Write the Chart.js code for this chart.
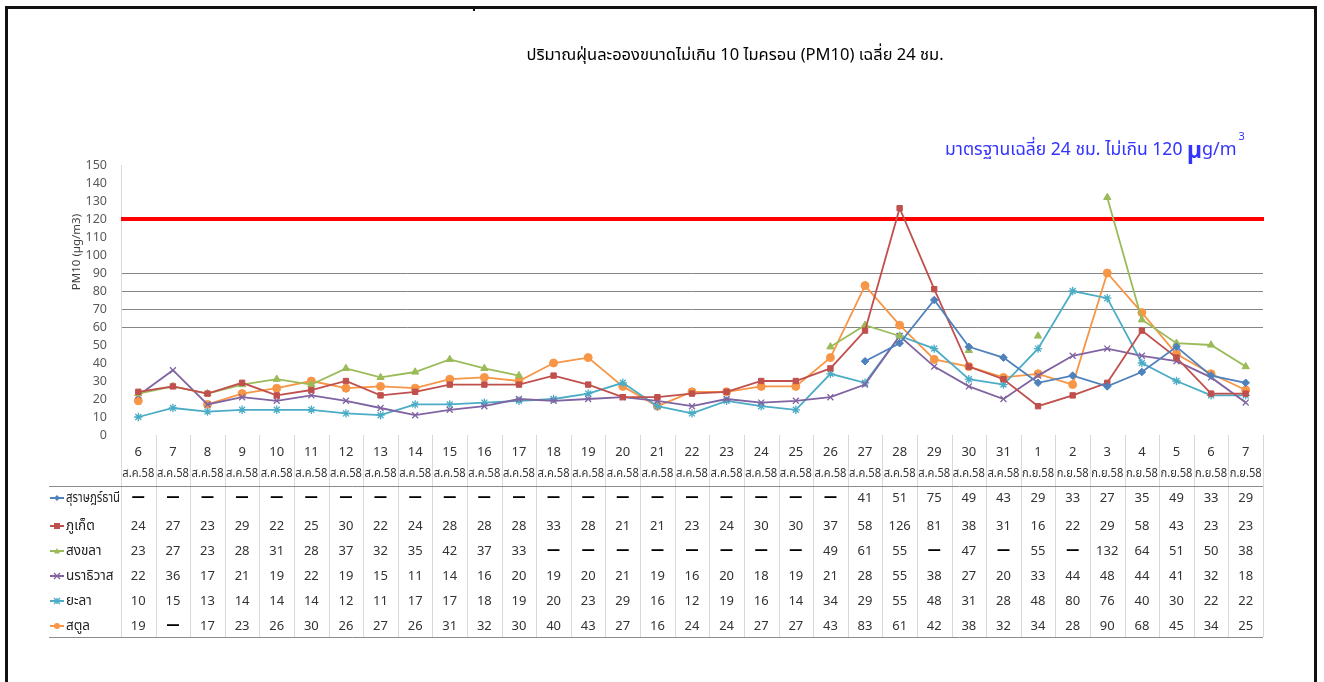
<!DOCTYPE html>
<html><head><meta charset="utf-8">
<script src="https://cdn.jsdelivr.net/npm/chart.js@4.4.0/dist/chart.umd.min.js"></script>
<style>html,body{margin:0;padding:0;background:#fff;}#wrap{width:1324px;height:682px;position:relative;}</style>
</head><body><div id="wrap"><canvas id="c" width="1324" height="682"></canvas></div>
<script>
// ---------- DATA ----------
const dayLabels = ['6','7','8','9','10','11','12','13','14','15','16','17','18','19','20','21','22','23','24','25','26','27','28','29','30','31','1','2','3','4','5','6','7'];
const monthLabels = ['ส.ค.58','ส.ค.58','ส.ค.58','ส.ค.58','ส.ค.58','ส.ค.58','ส.ค.58','ส.ค.58','ส.ค.58','ส.ค.58','ส.ค.58','ส.ค.58','ส.ค.58','ส.ค.58','ส.ค.58','ส.ค.58','ส.ค.58','ส.ค.58','ส.ค.58','ส.ค.58','ส.ค.58','ส.ค.58','ส.ค.58','ส.ค.58','ส.ค.58','ส.ค.58','ก.ย.58','ก.ย.58','ก.ย.58','ก.ย.58','ก.ย.58','ก.ย.58','ก.ย.58'];
const seriesNames = ['สุราษฎร์ธานี','ภูเก็ต','สงขลา','นราธิวาส','ยะลา','สตูล'];
const suratThani = [null,null,null,null,null,null,null,null,null,null,null,null,null,null,null,null,null,null,null,null,null,41,51,75,49,43,29,33,27,35,49,33,29];
const phuket     = [24,27,23,29,22,25,30,22,24,28,28,28,33,28,21,21,23,24,30,30,37,58,126,81,38,31,16,22,29,58,43,23,23];
const songkhla   = [23,27,23,28,31,28,37,32,35,42,37,33,null,null,null,null,null,null,null,null,49,61,55,null,47,null,55,null,132,64,51,50,38];
const narathiwat = [22,36,17,21,19,22,19,15,11,14,16,20,19,20,21,19,16,20,18,19,21,28,55,38,27,20,33,44,48,44,41,32,18];
const yala       = [10,15,13,14,14,14,12,11,17,17,18,19,20,23,29,16,12,19,16,14,34,29,55,48,31,28,48,80,76,40,30,22,22];
const satun      = [19,null,17,23,26,30,26,27,26,31,32,30,40,43,27,16,24,24,27,27,43,83,61,42,38,32,34,28,90,68,45,34,25];
const standardValue = 120;
const yMin = 0, yMax = 150, yStep = 10;
const visibleGridValues = [60,70,80,90];
const titleText = 'ปริมาณฝุ่นละอองขนาดไม่เกิน 10 ไมครอน (PM10) เฉลี่ย 24 ชม.';
const yAxisTitle = 'PM10 (µg/m3)';
const noteMain = 'มาตรฐานเฉลี่ย 24 ชม. ไม่เกิน 120 ';
const noteMu = 'µ', noteUnit = 'g/m', noteSup = '3';

// ---------- STYLE ----------
const FONT = '"Noto Sans","Noto Sans Thai","DejaVu Sans",sans-serif';
const colors = ['#4F81BD','#C0504D','#9BBB59','#8064A2','#4BACC6','#F79646'];
const styles = ['rectRot','rect','triangle','crossRot','star','circle'];
const radii = [3.8,3.8,4.2,4.2,4.2,4];
const allSeries = [suratThani, phuket, songkhla, narathiwat, yala, satun];

const PLOT_BOTTOM = 435, TABLE_BOTTOM = 637, HEADER_LINE = 486;
const ROW_Y = [498,526,551,576,601,626];

function drawMarker(ctx, style, x, y, r, color){
  ctx.save();
  ctx.fillStyle = color; ctx.strokeStyle = color; ctx.lineWidth = 1.3;
  ctx.beginPath();
  if (style==='rectRot'){ ctx.moveTo(x,y-r);ctx.lineTo(x+r,y);ctx.lineTo(x,y+r);ctx.lineTo(x-r,y);ctx.closePath();ctx.fill(); }
  else if (style==='rect'){ ctx.fillRect(x-r,y-r,2*r,2*r); }
  else if (style==='triangle'){ ctx.moveTo(x,y-r);ctx.lineTo(x+r,y+r*0.8);ctx.lineTo(x-r,y+r*0.8);ctx.closePath();ctx.fill(); }
  else if (style==='crossRot'){ ctx.moveTo(x-r,y-r);ctx.lineTo(x+r,y+r);ctx.moveTo(x+r,y-r);ctx.lineTo(x-r,y+r);ctx.stroke(); }
  else if (style==='star'){ ctx.moveTo(x-r,y-r);ctx.lineTo(x+r,y+r);ctx.moveTo(x+r,y-r);ctx.lineTo(x-r,y+r);ctx.moveTo(x,y-r);ctx.lineTo(x,y+r);ctx.stroke(); }
  else { ctx.arc(x,y,r,0,Math.PI*2);ctx.fill(); }
  ctx.restore();
}

const decorPlugin = {
  id:'decor',
  beforeDatasetsDraw(chart){
    const ctx = chart.ctx, ys = chart.scales.y, a = chart.chartArea;
    const y = ys.getPixelForValue(standardValue);
    ctx.save();
    ctx.strokeStyle = '#FF0000'; ctx.lineWidth = 4;
    ctx.beginPath(); ctx.moveTo(a.left, y); ctx.lineTo(a.right+1, y); ctx.stroke();
    ctx.restore();
  },
  afterDraw(chart){
    const ctx = chart.ctx, xs = chart.scales.x, a = chart.chartArea;
    ctx.save();
    // frame
    ctx.fillStyle = '#111';
    ctx.fillRect(5,6,1312,3);
    ctx.fillRect(5,6,3,676);
    ctx.fillRect(1314,6,3,676);
    ctx.fillRect(473,9,2,2);
    // title
    ctx.fillStyle = '#000'; ctx.textBaseline='middle'; ctx.textAlign='center';
    ctx.font = '16.5px '+FONT;
    ctx.fillText(titleText, 735, 55, 418);
    // note
    ctx.fillStyle = '#3333FF'; ctx.textAlign='left';
    ctx.font = '18px '+FONT;
    let x = 945;
    const mainW = Math.min(ctx.measureText(noteMain).width, 242);
    ctx.fillText(noteMain, x, 150, 242); x += mainW;
    ctx.font = 'bold 23px '+FONT;
    ctx.fillText(noteMu, x, 151); x += ctx.measureText(noteMu).width;
    ctx.font = '18px '+FONT;
    ctx.fillText(noteUnit, x, 150); x += ctx.measureText(noteUnit).width;
    ctx.font = '11px '+FONT;
    ctx.fillText(noteSup, x+2, 137);
    // y-axis title
    ctx.save();
    ctx.translate(77, 252); ctx.rotate(-Math.PI/2);
    ctx.fillStyle = '#404040'; ctx.textAlign='center'; ctx.font = '11.5px '+FONT;
    ctx.fillText(yAxisTitle, 0, 0);
    ctx.restore();
    // table grid
    const n = dayLabels.length;
    const step = xs.getPixelForValue(1) - xs.getPixelForValue(0);
    ctx.strokeStyle = '#d9d9d9'; ctx.lineWidth = 1;
    for (let i=0;i<=n;i++){
      const xx = Math.round(xs.getPixelForValue(Math.min(i,n-1)) + (i<n ? -step/2 : step/2)) + 0.5;
      ctx.beginPath(); ctx.moveTo(xx, PLOT_BOTTOM); ctx.lineTo(xx, TABLE_BOTTOM); ctx.stroke();
    }
    ctx.strokeStyle = '#8c8c8c';
    ctx.beginPath(); ctx.moveTo(49, HEADER_LINE+0.5); ctx.lineTo(a.right, HEADER_LINE+0.5); ctx.stroke();
    ctx.beginPath(); ctx.moveTo(49, TABLE_BOTTOM+0.5); ctx.lineTo(a.right, TABLE_BOTTOM+0.5); ctx.stroke();
    // headers
    ctx.fillStyle = '#333'; ctx.textAlign = 'center'; ctx.textBaseline='middle';
    for (let i=0;i<n;i++){
      const cx = xs.getPixelForValue(i);
      ctx.font = '13px '+FONT;
      ctx.fillText(dayLabels[i], cx, 452, 31);
      ctx.fillText(monthLabels[i], cx, 473, 32);
    }
    // rows
    for (let s=0;s<allSeries.length;s++){
      const y = ROW_Y[s];
      ctx.strokeStyle = colors[s]; ctx.lineWidth = 2;
      ctx.beginPath(); ctx.moveTo(50,y); ctx.lineTo(64,y); ctx.stroke();
      drawMarker(ctx, styles[s], 57, y, 3, colors[s]);
      ctx.fillStyle = '#222'; ctx.textAlign='left'; ctx.font = '13.5px '+FONT;
      ctx.fillText(seriesNames[s], 66, y, 54);
      ctx.textAlign='center';
      for (let i=0;i<n;i++){
        const v = allSeries[s][i];
        const cx = xs.getPixelForValue(i);
        if (v===null){
          ctx.fillStyle = '#000'; ctx.font = 'bold 16px '+FONT;
          ctx.fillText('—', cx, y-2, 13);
        } else {
          ctx.fillStyle = '#333'; ctx.font = '13px '+FONT;
          ctx.fillText(String(v), cx, y, 30);
        }
      }
    }
    ctx.restore();
  }
};

const datasets = allSeries.map((d,i)=>({
  label: seriesNames[i], data: d,
  borderColor: colors[i], backgroundColor: colors[i],
  pointStyle: styles[i], pointRadius: radii[i],
  pointBackgroundColor: colors[i], pointBorderColor: colors[i],
  pointBorderWidth: (styles[i]==='crossRot'||styles[i]==='star') ? 1.3 : 1,
  borderWidth: 1.8, tension: 0, spanGaps: false, fill: false
}));

new Chart(document.getElementById('c'), {
  type: 'line',
  data: { labels: dayLabels, datasets },
  options: {
    responsive: false, animation: false, devicePixelRatio: 1,
    layout: { padding: { top: 165, left: 0, right: 61, bottom: 0 } },
    plugins: { legend: { display: false }, title: { display: false }, tooltip: { enabled: false } },
    scales: {
      x: {
        offset: true,
        ticks: { display: false },
        grid: { display: false },
        border: { display: false },
        afterFit: (s)=>{ s.height = 682 - PLOT_BOTTOM; }
      },
      y: {
        min: yMin, max: yMax,
        ticks: { stepSize: yStep, color: '#595959', font: { size: 12.5, family: FONT }, padding: 14 },
        grid: { drawTicks: false, color: (c)=> visibleGridValues.includes(c.tick && c.tick.value) ? '#868686' : 'rgba(0,0,0,0)' },
        border: { display: true, color: '#d9d9d9' },
        afterFit: (s)=>{ s.width = 121; }
      }
    }
  },
  plugins: [decorPlugin]
});
</script></body></html>
